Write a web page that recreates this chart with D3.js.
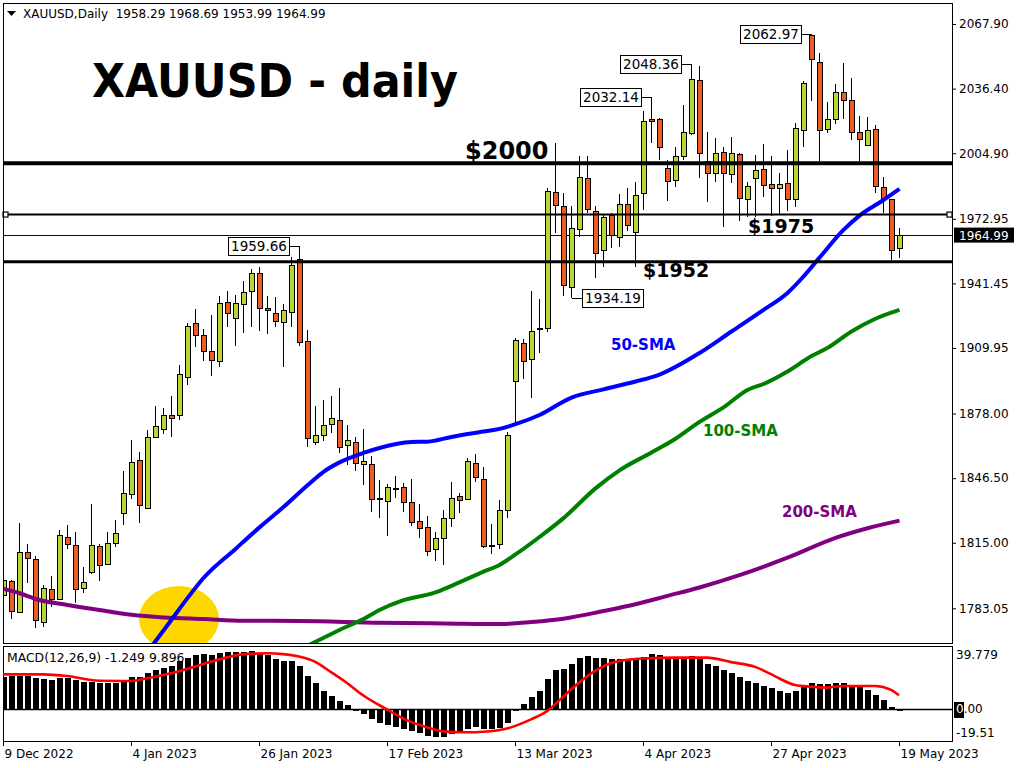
<!DOCTYPE html>
<html><head><meta charset="utf-8">
<script src="https://cdn.jsdelivr.net/npm/d3@7"></script>
<style>body{margin:0;background:#fff}svg{display:block}text{font-family:"DejaVu Sans",sans-serif}</style>
</head><body><svg id="c" width="1024" height="768"></svg>
<script>
// ---- DATA ----
const opens=[1789.5,1796.0,1781.1,1810.3,1806.9,1776.2,1792.3,1787.4,1817.7,1813.9,1792.8,1800.4,1813.4,1804.5,1814.7,1829.4,1838.6,1854.9,1831.8,1866.4,1870.3,1877.1,1877.1,1895.7,1922.0,1916.1,1908.3,1903.5,1932.2,1924.4,1931.2,1937.6,1946.4,1929.3,1927.0,1922.5,1927.3,1953.2,1913.2,1864.0,1867.2,1872.7,1874.7,1862.2,1864.0,1853.2,1853.2,1836.2,1835.2,1841.1,1842.0,1834.7,1825.6,1822.5,1811.8,1817.2,1826.9,1837.5,1836.2,1853.7,1845.9,1813.8,1814.3,1830.8,1893.7,1911.9,1904.4,1919.2,1919.5,1985.7,1978.8,1939.5,1967.8,1992.7,1976.4,1957.7,1974.3,1963.9,1980.0,1966.3,1985.4,2021.4,2021.4,1997.5,1991.5,2003.2,2014.6,2040.3,2000.8,1994.8,2005.3,1994.3,2004.4,1982.4,1992.7,1997.1,1989.7,1987.8,1990.2,1982.1,2016.2,2062.5,2049.2,2016.5,2021.1,2034.4,2030.4,2015.1,2008.9,2016.5,1988.3,1982.1,1958.29];
const highs=[1805.8,1796.9,1824.5,1814.4,1808.6,1794.4,1798.8,1821.2,1823.7,1820.1,1803.4,1833.9,1814.4,1820.3,1826.1,1850.0,1865.1,1859.4,1870.0,1881.9,1880.5,1886.7,1901.7,1922.3,1929.0,1919.1,1926.0,1935.3,1937.7,1935.8,1942.6,1948.5,1949.3,1935.3,1934.7,1931.4,1954.5,1959.66,1918.7,1881.7,1884.6,1886.6,1890.5,1872.3,1866.7,1870.3,1857.3,1845.6,1843.7,1847.6,1844.3,1845.9,1833.7,1828.1,1820.4,1831.0,1844.5,1839.4,1856.2,1858.3,1851.8,1824.2,1835.9,1869.2,1914.7,1914.2,1937.7,1933.7,1987.8,2009.7,1985.4,1979.2,2003.5,2003.5,1979.2,1975.3,1975.9,1985.0,1987.8,1990.7,2025.6,2032.14,2022.0,2001.6,2008.1,2028.4,2048.36,2047.6,2015.1,2012.2,2008.1,2012.6,2005.2,1990.7,2004.0,2009.4,2003.6,1995.1,2006.5,2019.5,2040.1,2062.97,2053.6,2029.7,2038.7,2048.7,2041.7,2023.1,2022.7,2018.5,1993.5,1982.6,1968.69];
const lows=[1788.7,1777.7,1780.6,1795.2,1773.6,1774.1,1783.5,1787.1,1811.8,1785.5,1790.7,1799.8,1796.5,1804.0,1813.1,1823.7,1836.2,1824.8,1831.3,1866.2,1867.9,1866.7,1874.9,1891.9,1910.6,1903.6,1896.5,1900.9,1920.4,1911.1,1917.1,1920.0,1918.4,1916.6,1920.4,1900.9,1920.4,1910.9,1861.5,1862.8,1864.8,1868.7,1858.6,1853.1,1850.2,1843.2,1830.2,1827.3,1818.5,1837.0,1830.2,1823.3,1817.2,1808.5,1806.3,1804.2,1822.9,1829.7,1835.9,1844.8,1812.3,1809.4,1812.0,1827.3,1873.6,1895.0,1885.8,1907.4,1917.9,1965.8,1935.5,1934.19,1964.2,1975.6,1943.9,1949.3,1958.5,1959.4,1967.1,1949.6,1977.2,2009.7,2001.6,1981.8,1988.6,2001.6,2013.8,1992.7,1981.3,1991.0,1969.1,1990.2,1971.7,1974.0,1974.0,1983.4,1974.3,1975.3,1976.9,1978.5,2007.8,2030.5,2001.3,2014.6,2019.2,2021.4,2011.4,2001.3,2008.6,1985.4,1975.6,1952.9,1953.99];
const closes=[1796.5,1781.7,1810.3,1807.4,1776.9,1792.8,1787.1,1818.3,1814.2,1792.3,1795.7,1813.9,1804.0,1814.7,1819.3,1839.1,1854.2,1833.1,1866.4,1871.8,1877.1,1875.7,1897.1,1920.5,1915.8,1908.3,1903.9,1931.7,1926.9,1931.7,1937.1,1946.4,1929.3,1928.3,1923.0,1928.3,1950.3,1912.7,1865.9,1867.4,1872.3,1875.8,1861.4,1865.0,1853.7,1854.4,1836.2,1836.4,1842.0,1841.3,1834.7,1825.0,1822.1,1810.7,1817.2,1826.9,1836.7,1835.5,1854.7,1846.9,1813.1,1813.5,1830.8,1867.4,1913.7,1903.5,1918.1,1919.4,1986.2,1979.2,1940.3,1968.3,1993.2,1977.5,1956.1,1973.6,1965.0,1980.0,1969.6,1984.4,2020.3,2020.4,2007.8,1991.0,2003.2,2015.1,2040.9,2004.8,1995.1,2004.8,1994.8,2004.8,1982.9,1988.9,1996.4,1989.4,1987.8,1989.7,1982.4,2017.0,2039.0,2050.7,2016.2,2021.4,2034.4,2030.4,2015.1,2011.4,2016.2,1988.9,1982.1,1957.7,1964.99];
const macdHist=[24.2,24.9,24.9,24.6,23.4,22.7,21.7,23.4,23.4,21.7,20.5,20.5,19.7,19.7,19.7,20.5,23.7,23.7,26.9,29.1,30.8,32.3,35.5,37.9,40.1,40.6,40.1,41.8,42.4,42.4,42.4,42.9,41.8,40.1,37.2,36.0,36.0,32.3,24.9,19.3,13.9,9.9,6.3,3.3,-0.5,-3.1,-7.0,-9.7,-11.4,-12.7,-14.6,-15.6,-17.1,-19.3,-20.0,-20.0,-18.3,-16.6,-14.1,-12.9,-14.1,-14.6,-13.9,-9.7,-1.2,4.1,9.2,13.6,22.5,29.1,29.8,33.5,37.9,39.4,37.9,37.9,37.2,37.2,37.2,37.9,38.9,40.9,40.1,38.9,38.9,38.9,39.6,38.9,33.5,32.0,29.1,27.1,24.2,21.2,19.7,17.3,16.1,13.9,12.4,13.9,16.8,19.7,18.8,18.8,19.7,19.3,17.3,17.3,14.4,10.7,7.0,1.8,-1.249];
// [bar index, value] samples
const macdSignal=[[-1,25.9],[0,25.9],[5,25.9],[8,24.7],[12,21.2],[16,21.0],[18,23.0],[20,25.4],[23,29.8],[25,33.5],[28,38.4],[30,40.6],[33,41.4],[35,40.8],[37,39.0],[39,35.2],[41,27.5],[43,19.5],[45,10.5],[48,0],[50,-6.5],[53,-13.1],[55,-16.1],[58,-16.8],[60,-16.4],[63,-14.0],[66,-7.3],[68,-1.2],[70,9.3],[72,19.8],[74,28.5],[77,35.7],[80,37.6],[84,38.2],[88,38.2],[91,34.9],[94,31.4],[96,26.0],[97,23.0],[99,18.0],[101,16.8],[103,16.1],[105,17.3],[109,17.3],[111,14.5],[112,10.5]];
const sma50=[[17,1756.5],[19,1767.0],[21,1777.5],[23,1788.0],[25,1797.8],[29,1812.0],[32,1822.5],[35,1832.4],[38,1843.0],[40,1849.6],[42,1854.2],[45,1858.8],[47,1861.2],[51,1864.1],[53,1864.3],[56,1866.6],[60,1869.2],[62,1870.5],[64,1872.8],[67,1877.3],[71,1885.8],[75,1889.8],[79,1893.6],[82,1897.0],[87,1907.5],[91,1918.0],[95,1928.5],[98,1936.8],[100,1944.8],[102,1954.0],[105,1967.5],[107,1974.5],[110,1982.1],[112,1987.5]];
const sma100=[[37,1762.7],[39,1766.7],[42,1772.5],[45,1777.8],[47,1782.2],[50,1787.0],[54,1790.8],[56,1794.0],[60,1800.9],[62,1804.2],[64,1809.3],[67,1817.8],[70,1827.0],[74,1841.5],[77,1850.3],[81,1859.0],[84,1865.7],[87,1873.9],[90,1881.0],[93,1889.5],[95,1892.4],[98,1898.5],[101,1906.0],[103,1910.0],[106,1918.0],[109,1924.2],[112,1928.5]];
const sma200=[[-1,1793.4],[2,1790.4],[4,1787.6],[8,1784.7],[12,1782.2],[16,1779.9],[20,1778.6],[25,1777.8],[30,1777.0],[37,1776.9],[47,1776.0],[55,1775.7],[62,1775.4],[66,1776.4],[70,1778.0],[75,1781.7],[79,1785.0],[83,1789.1],[87,1793.2],[92,1799.2],[98,1807.7],[104,1817.4],[108,1822.1],[112,1825.8]];
const priceTicks=[2067.90,2036.40,2004.90,1972.95,1941.45,1909.95,1878.00,1846.50,1815.00,1783.05];
const priceTickLabels=["2067.90","2036.40","2004.90","1972.95","1941.45","1909.95","1878.00","1846.50","1815.00","1783.05"];
const macdTicks=[39.779,0,-19.51];
const macdTickLabels=["39.779","0.00","-19.51"];
const dateTickIdx=[0,16,32,48,64,80,96,112];
const dateTickLabels=["9 Dec 2022","4 Jan 2023","26 Jan 2023","17 Feb 2023","13 Mar 2023","4 Apr 2023","27 Apr 2023","19 May 2023"];
const levelPrices=[2000,1975,1952];
const levelLabels=["$2000","$1975","$1952"];
const markIdx=[37,81,86,101,71];
const markPrice=[1959.66,2032.14,2048.36,2062.97,1934.19];
const markIsHigh=[true,true,true,true,false];
const bid=1964.99;
const header="XAUUSD,Daily  1958.29 1968.69 1953.99 1964.99";
const macdHeader="MACD(12,26,9) -1.249 9.896";

// ---- DRAWING ----
const svg=d3.select("#c");
const L=3,R=952,T=3,B=643.5,MT=646,MB=741;
const x=d3.scaleLinear().domain([0,112]).range([3,899]);
const y=d3.scaleLinear().domain([1783.05,2067.90]).range([608.3,24]);
const ym=d3.scaleLinear().domain([0,39.779]).range([709.5,655.5]);
const UP="#BCD631",DN="#F05A23";
svg.append("rect").attr("width",1024).attr("height",768).attr("fill","#fff");
const defs=svg.append("defs");
defs.append("clipPath").attr("id","cm").append("rect").attr("x",L).attr("y",T).attr("width",R-L).attr("height",B-T);
defs.append("clipPath").attr("id","cd").append("rect").attr("x",L).attr("y",MT).attr("width",R-L).attr("height",MB-MT);
const main=svg.append("g").attr("clip-path","url(#cm)");
// highlight ellipse
main.append("ellipse").attr("cx",x(22)).attr("cy",y(1777.8)).attr("rx",40).attr("ry",33).attr("fill","#FFD700");
// bid line
main.append("line").attr("x1",L).attr("x2",R).attr("y1",Math.round(y(bid))+0.5).attr("y2",Math.round(y(bid))+0.5).attr("stroke","#000080").attr("stroke-width",1).attr("shape-rendering","crispEdges");
// candles
const idx=d3.range(opens.length);
const cg=main.append("g").attr("shape-rendering","crispEdges");
cg.selectAll("line.w").data(idx).join("line").attr("x1",i=>x(i)+0.5).attr("x2",i=>x(i)+0.5)
  .attr("y1",i=>y(highs[i])).attr("y2",i=>y(lows[i])).attr("stroke","#000");
cg.selectAll("rect.b").data(idx).join("rect")
  .attr("x",i=>x(i)-2).attr("width",5)
  .attr("y",i=>y(Math.max(opens[i],closes[i]))).attr("height",i=>Math.max(1,Math.abs(y(opens[i])-y(closes[i]))))
  .attr("fill",i=>closes[i]>=opens[i]?UP:DN).attr("stroke","#000").attr("stroke-width",1);
// SMAs
const ln=d3.line().x(d=>x(d[0])+0.5).y(d=>y(d[1])).curve(d3.curveMonotoneX);
[[sma200,"#800080"],[sma100,"#008000"],[sma50,"#0000FF"]].forEach(([s,c])=>{
  main.append("path").attr("d",ln(s)).attr("fill","none").attr("stroke",c).attr("stroke-width",4).attr("stroke-linejoin","round");
});
// levels
const lw=[4,2,3];
levelPrices.forEach((p,k)=>{
  main.append("line").attr("x1",L).attr("x2",R).attr("y1",y(p)).attr("y2",y(p)).attr("stroke","#000").attr("stroke-width",lw[k]);
});
[5.5,949.5].forEach(cx=>{
  svg.append("rect").attr("x",cx-2.5).attr("y",y(1975)-2.5).attr("width",5).attr("height",5).attr("fill","#fff").attr("stroke","#000").attr("stroke-width",1.2);
});
// annotations text
const bold=(t,xx,yy,sz,col)=>svg.append("text").attr("x",xx).attr("y",yy).attr("font-size",sz).attr("font-weight","bold").attr("fill",col).text(t);
bold("XAUUSD - daily",92,97,46,"#000").attr("textLength",366).attr("lengthAdjust","spacingAndGlyphs");
bold(levelLabels[0],465,159,24,"#000");
bold(levelLabels[1],748,233,19,"#000");
bold(levelLabels[2],643,277,19,"#000");
bold("50-SMA",611,350,15,"#0000FF");
bold("100-SMA",703,436,15,"#008000");
bold("200-SMA",782,517,15,"#800080");
// marked prices
markIdx.forEach((bi,k)=>{
  const cx=x(bi)+0.5, cy=y(markPrice[k]);
  const bx=markIsHigh[k]? cx-10-61 : cx+11;
  const ex=markIsHigh[k]? bx+61 : bx;
  svg.append("line").attr("x1",ex).attr("x2",cx).attr("y1",cy).attr("y2",cy).attr("stroke","#000").attr("shape-rendering","crispEdges");
  svg.append("rect").attr("x",bx).attr("y",cy-9).attr("width",61).attr("height",18).attr("fill","#fff").attr("stroke","#000").attr("shape-rendering","crispEdges");
  svg.append("text").attr("x",bx+30.5).attr("y",cy+5).attr("text-anchor","middle").attr("font-size",13.5).text(markPrice[k].toFixed(2));
});
// header
svg.append("path").attr("d","M7,11L16,11L11.5,16Z").attr("fill","#000");
svg.append("text").attr("x",23).attr("y",18).attr("font-size",12).attr("xml:space","preserve").text(header);
// frames
const fr=svg.append("g").attr("fill","none").attr("stroke","#000").attr("shape-rendering","crispEdges");
fr.append("rect").attr("x",L).attr("y",T).attr("width",R-L).attr("height",B-T);
fr.append("rect").attr("x",L).attr("y",MT).attr("width",R-L).attr("height",MB-MT);
// price axis
const ay=svg.append("g").attr("transform",`translate(${R},0)`)
  .call(d3.axisRight(y).tickValues(priceTicks).tickFormat((d,i)=>priceTickLabels[i]).tickSize(4).tickPadding(3));
ay.select(".domain").remove();
ay.selectAll("text").attr("font-size",12).attr("font-family","DejaVu Sans").attr("fill","#000");
// bid tag
svg.append("rect").attr("x",954).attr("y",y(bid)-7.5).attr("width",60).attr("height",15).attr("fill","#000");
svg.append("text").attr("x",959).attr("y",y(bid)+4.5).attr("font-size",12).attr("fill","#fff").text(bid.toFixed(2));
// MACD
const md=svg.append("g").attr("clip-path","url(#cd)");
md.append("g").attr("shape-rendering","crispEdges").selectAll("rect").data(idx).join("rect")
  .attr("x",i=>x(i)-2.5).attr("width",6)
  .attr("y",i=>Math.min(ym(0),ym(macdHist[i]))).attr("height",i=>Math.max(1,Math.abs(ym(macdHist[i])-ym(0))))
  .attr("fill","#000");
md.append("line").attr("x1",L).attr("x2",R).attr("y1",ym(0)).attr("y2",ym(0)).attr("stroke","#000").attr("stroke-width",1.5);
md.append("path").attr("d",d3.line().x(d=>x(d[0])).y(d=>ym(d[1])).curve(d3.curveMonotoneX)(macdSignal))
  .attr("fill","none").attr("stroke","#FF0000").attr("stroke-width",2.6);
svg.append("text").attr("x",7).attr("y",662).attr("font-size",12.4).text(macdHeader);
// current-value box behind the 0.00 label
svg.append("rect").attr("x",954).attr("y",ym(0)-7.5).attr("width",10).attr("height",16).attr("fill","#000");
const am=svg.append("g").attr("transform",`translate(${R},0)`)
  .call(d3.axisRight(ym).tickValues(macdTicks).tickFormat((d,i)=>macdTickLabels[i]).tickSize(0).tickPadding(4));
am.select(".domain").remove();
am.selectAll("text").attr("font-size",12).attr("font-family","DejaVu Sans").attr("fill","#000");
am.selectAll(".tick").attr("transform",d=>`translate(0,${Math.min(ym(d),732.7)})`);
am.selectAll(".tick").filter(d=>d===0).select("text").each(function(){
  const t=d3.select(this), s=macdTickLabels[1];
  t.text(null);
  t.append("tspan").attr("fill","#fff").text(s.charAt(0));
  t.append("tspan").text(s.slice(1));
});
// date axis
const ax=svg.append("g").attr("transform",`translate(0,${MB})`)
  .call(d3.axisBottom(x).tickValues(dateTickIdx).tickFormat((d,i)=>dateTickLabels[i]).tickSize(5).tickPadding(3));
ax.select(".domain").remove();
ax.selectAll("text").attr("font-size",12).attr("font-family","DejaVu Sans").attr("fill","#000").attr("text-anchor","start").attr("dx",1);
</script></body></html>
